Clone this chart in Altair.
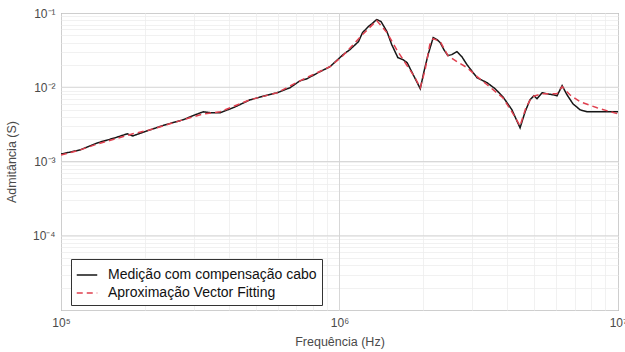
import altair as alt
import pandas as pd

# Measured admittance (black solid)
freq_meas = [1.00e5, 1.17e5, 1.35e5, 1.56e5, 1.73e5, 1.81e5, 2.09e5, 2.36e5, 2.74e5, 3.03e5,
             3.24e5, 3.48e5, 3.72e5, 4.22e5, 4.77e5, 5.40e5, 5.97e5, 6.64e5, 7.21e5, 7.64e5,
             8.37e5, 9.24e5, 1.03e6, 1.09e6, 1.17e6, 1.21e6, 1.27e6, 1.31e6, 1.36e6, 1.41e6,
             1.48e6, 1.54e6, 1.62e6, 1.69e6, 1.75e6, 1.84e6, 1.95e6, 2.01e6, 2.08e6, 2.17e6,
             2.24e6, 2.30e6, 2.37e6, 2.45e6, 2.53e6, 2.64e6, 2.75e6, 2.87e6, 3.12e6, 3.39e6,
             3.62e6, 3.86e6, 4.16e6, 4.45e6, 4.64e6, 4.83e6, 4.99e6, 5.12e6, 5.34e6, 5.56e6,
             5.84e6, 6.04e6, 6.30e6, 6.56e6, 6.89e6, 7.31e6, 7.74e6, 8.62e6, 9.36e6, 1.00e7]
adm_meas = [1.26e-3, 1.43e-3, 1.78e-3, 2.08e-3, 2.36e-3, 2.21e-3, 2.67e-3, 3.11e-3, 3.64e-3, 4.25e-3,
            4.67e-3, 4.52e-3, 4.52e-3, 5.44e-3, 6.77e-3, 7.67e-3, 8.43e-3, 9.85e-3, 1.22e-2, 1.30e-2,
            1.57e-2, 1.89e-2, 2.75e-2, 3.21e-2, 4.12e-2, 5.45e-2, 6.57e-2, 7.22e-2, 8.17e-2, 7.67e-2,
            5.62e-2, 3.75e-2, 2.51e-2, 2.35e-2, 2.14e-2, 1.47e-2, 9.55e-3, 1.62e-2, 2.75e-2, 4.67e-2,
            4.38e-2, 3.99e-2, 3.21e-2, 2.67e-2, 2.75e-2, 3.02e-2, 2.58e-2, 2.01e-2, 1.34e-2, 1.15e-2,
            9.55e-3, 7.45e-3, 4.97e-3, 2.84e-3, 4.67e-3, 6.77e-3, 7.67e-3, 7.00e-3, 8.43e-3, 8.17e-3,
            7.92e-3, 7.67e-3, 1.05e-2, 7.92e-3, 5.98e-3, 4.97e-3, 4.67e-3, 4.67e-3, 4.67e-3, 4.67e-3]

# Vector Fitting approximation (red dashed)
freq_fit = [1.00e5, 1.17e5, 1.35e5, 1.56e5, 1.81e5, 2.09e5, 2.74e5, 3.24e5, 3.72e5, 4.77e5,
            5.97e5, 7.21e5, 9.24e5, 1.03e6, 1.21e6, 1.36e6, 1.48e6, 1.62e6, 1.75e6, 1.87e6,
            1.95e6, 2.03e6, 2.11e6, 2.17e6, 2.30e6, 2.45e6, 2.64e6, 2.87e6, 3.12e6, 3.39e6,
            3.86e6, 4.16e6, 4.45e6, 4.67e6, 4.91e6, 5.34e6, 6.04e6, 6.30e6, 6.72e6, 7.31e6,
            8.41e6, 1.00e7]
adm_fit = [1.22e-3, 1.43e-3, 1.72e-3, 2.01e-3, 2.36e-3, 2.67e-3, 3.64e-3, 4.38e-3, 4.67e-3, 6.77e-3,
           8.43e-3, 1.22e-2, 1.89e-2, 2.67e-2, 5.12e-2, 7.92e-2, 5.45e-2, 3.02e-2, 1.95e-2, 1.34e-2,
           9.85e-3, 1.72e-2, 3.75e-2, 4.52e-2, 4.12e-2, 2.67e-2, 2.21e-2, 1.84e-2, 1.39e-2, 1.08e-2,
           7.22e-3, 4.67e-3, 3.02e-3, 5.29e-3, 7.45e-3, 8.17e-3, 8.17e-3, 1.02e-2, 7.92e-3, 6.37e-3,
           5.29e-3, 4.38e-3]

series_names = ["Medição com compensação cabo", "Aproximação Vector Fitting"]
series_colors = ["#161616", "#e0404f"]
series_dashes = [[1, 0], [6, 4]]

x_grid = [1e5, 2e5, 3e5, 4e5, 5e5, 6e5, 7e5, 8e5, 9e5,
          1e6, 2e6, 3e6, 4e6, 5e6, 6e6, 7e6, 8e6, 9e6, 1e7]
y_grid = [1e-5, 2e-5, 3e-5, 4e-5, 5e-5, 6e-5, 7e-5, 8e-5, 9e-5,
          1e-4, 2e-4, 3e-4, 4e-4, 5e-4, 6e-4, 7e-4, 8e-4, 9e-4,
          1e-3, 2e-3, 3e-3, 4e-3, 5e-3, 6e-3, 7e-3, 8e-3, 9e-3,
          1e-2, 2e-2, 3e-2, 4e-2, 5e-2, 6e-2, 7e-2, 8e-2, 9e-2, 1e-1]
x_major = [1e6]
y_major = [1e-4, 1e-3, 1e-2]

df = pd.concat([
    pd.DataFrame({"f": freq_meas, "Y": adm_meas, "serie": series_names[0], "i": range(len(freq_meas))}),
    pd.DataFrame({"f": freq_fit, "Y": adm_fit, "serie": series_names[1], "i": range(len(freq_fit))}),
])

FONT = "Liberation Sans"
TXT = "#4a4a4a"

xscale = alt.Scale(type="log", domain=[1e5, 1e7], nice=False)
yscale = alt.Scale(type="log", domain=[1e-5, 1e-1], nice=False)

x_label_expr = ("datum.value == 100000 ? '10⁵' : datum.value == 1000000 ? '10⁶' : "
                "datum.value == 10000000 ? '10⁷' : ''")
y_label_expr = ("datum.value == 0.1 ? '10⁻¹' : datum.value == 0.01 ? '10⁻²' : "
                "datum.value == 0.001 ? '10⁻³' : datum.value == 0.0001 ? '10⁻⁴' : ''")

x_axis = alt.Axis(values=x_grid, labelExpr=x_label_expr, title="Frequência (Hz)",
                  grid=True, gridColor="#ededed", gridWidth=0.8, ticks=False, domain=False,
                  labelOverlap=False, labelFlush=False, labelBound=False,
                  labelFont=FONT, labelFontSize=12, labelColor=TXT, labelPadding=7,
                  titleFont=FONT, titleFontSize=12.5, titleColor=TXT, titleFontWeight="normal",
                  titlePadding=7)
y_axis = alt.Axis(values=y_grid, labelExpr=y_label_expr, title="Admitância (S)",
                  grid=True, gridColor="#ededed", gridWidth=0.8, ticks=False, domain=False,
                  labelOverlap=False, labelFlush=False, labelBound=False,
                  labelFont=FONT, labelFontSize=12, labelColor=TXT, labelPadding=6,
                  titleFont=FONT, titleFontSize=12.5, titleColor=TXT, titleFontWeight="normal",
                  titlePadding=14)

X = alt.X("f:Q", scale=xscale, axis=x_axis)
Y = alt.Y("Y:Q", scale=yscale, axis=y_axis)

vmajor = alt.Chart(pd.DataFrame({"f": x_major})).mark_rule(color="#d4d4d4", strokeWidth=0.9).encode(x=X)
hmajor = alt.Chart(pd.DataFrame({"Y": y_major})).mark_rule(color="#d4d4d4", strokeWidth=0.9).encode(y=Y)

legend_kw = dict(title=None, orient="none", legendX=10, legendY=246,
                 fillColor="white", strokeColor="#333333", padding=5,
                 symbolType="stroke", symbolSize=420, symbolStrokeWidth=1.4,
                 labelFont=FONT, labelFontSize=14, labelColor="#111111",
                 labelOffset=10, rowPadding=0, labelLimit=400)

lines = alt.Chart(df).mark_line(strokeWidth=1.5, clip=True).encode(
    x=X,
    y=Y,
    order=alt.Order("i:Q"),
    color=alt.Color("serie:N", sort=series_names,
                    scale=alt.Scale(domain=series_names, range=series_colors),
                    legend=alt.Legend(**legend_kw)),
    strokeDash=alt.StrokeDash("serie:N", sort=series_names,
                              scale=alt.Scale(domain=series_names, range=series_dashes),
                              legend=alt.Legend(**legend_kw)),
)

chart = alt.layer(vmajor, hmajor, lines).properties(
    width=557, height=297,
    autosize=alt.AutoSizeParams(type="none"),
    padding={"left": 61, "top": 13, "right": 7, "bottom": 42},
    background="white",
).configure_view(stroke="#555555", strokeWidth=1)

chart.save("out.html", embed_options={"renderer": "svg", "actions": False})
